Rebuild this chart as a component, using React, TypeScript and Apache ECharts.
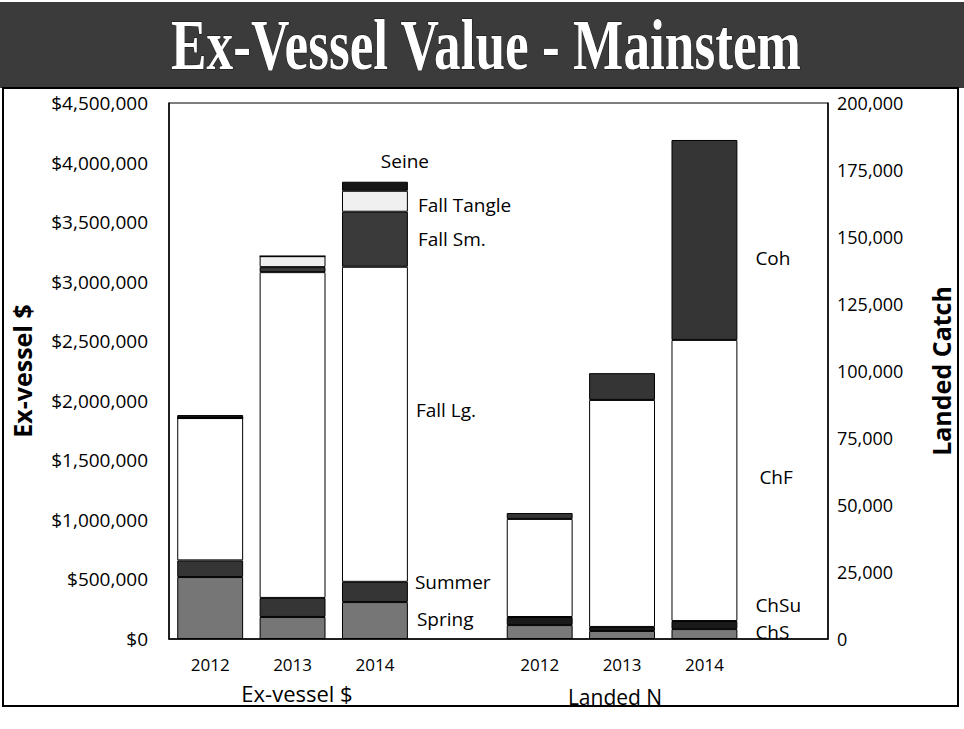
import React, { useEffect, useRef } from 'react';
import * as echarts from 'echarts';

// ---------- data ----------
const categories = ['2012', '2013', '2014', '', '2012', '2013', '2014', ''];
const groupLabels = ['Ex-vessel $', 'Landed N'];
const titleText = 'Ex-Vessel Value - Mainstem';
const leftAxisName = 'Ex-vessel $';
const rightAxisName = 'Landed Catch';

// Ex-vessel value ($) by year 2012, 2013, 2014
const spring = [520000, 185000, 310000];
const summer = [140000, 160000, 170000];
const fallLg = [1195000, 2735000, 2645000];
const fallSm = [0, 42000, 462000];
const fallTangle = [0, 92000, 176000];
const seine = [25000, 0, 76000];

// Landed catch (N) by year 2012, 2013, 2014
const chS = [5200, 3000, 3700];
const chSu = [3000, 1500, 3000];
const chF = [36600, 84700, 104900];
const coh = [2200, 10000, 74600];

const leftMax = 4500000;
const leftInterval = 500000;
const rightMax = 200000;
const rightInterval = 25000;

const FONT = 'Open Sans';

type Seg = {
  name: string;
  values: number[];
  color: string;
  group: 0 | 1;
  label: { position: string; offset: number[]; distance: number };
};

const segments: Seg[] = [
  { name: 'Spring', values: spring, color: '#767676', group: 0, label: { position: 'right', offset: [0, -2], distance: 9 } },
  { name: 'Summer', values: summer, color: '#353535', group: 0, label: { position: 'right', offset: [-2, -10], distance: 9 } },
  { name: 'Fall Lg.', values: fallLg, color: '#ffffff', group: 0, label: { position: 'right', offset: [0, -14], distance: 8 } },
  { name: 'Fall Sm.', values: fallSm, color: '#3a3a3a', group: 0, label: { position: 'right', offset: [0, 0], distance: 10 } },
  { name: 'Fall Tangle', values: fallTangle, color: '#f0f0f0', group: 0, label: { position: 'right', offset: [0, 4], distance: 10 } },
  { name: 'Seine', values: seine, color: '#151515', group: 0, label: { position: 'top', offset: [30, -6], distance: 5 } },
  { name: 'ChS', values: chS, color: '#7a7a7a', group: 1, label: { position: 'right', offset: [0, -2], distance: 18 } },
  { name: 'ChSu', values: chSu, color: '#1a1a1a', group: 1, label: { position: 'right', offset: [0, -20], distance: 18 } },
  { name: 'ChF', values: chF, color: '#ffffff', group: 1, label: { position: 'right', offset: [0, -3], distance: 22 } },
  { name: 'Coh', values: coh, color: '#353535', group: 1, label: { position: 'right', offset: [0, 18], distance: 18 } },
];

function buildSeries() {
  return segments.map((s) => {
    const start = s.group === 0 ? 0 : 4;
    const data: any[] = categories.map(() => null);
    s.values.forEach((v, i) => {
      data[start + i] = v;
    });
    const lastIdx = start + s.values.length - 1;
    data[lastIdx] = {
      value: data[lastIdx],
      label: {
        show: true,
        position: s.label.position,
        offset: s.label.offset,
        distance: s.label.distance,
        formatter: s.name,
        color: '#000',
        fontFamily: FONT,
        fontSize: 19,
      },
    };
    return {
      name: s.name,
      type: 'bar',
      stack: s.group === 0 ? 'ev' : 'ln',
      xAxisIndex: s.group,
      yAxisIndex: s.group,
      barCategoryGap: '20%',
      itemStyle: { color: s.color, borderColor: '#000', borderWidth: 1 },
      emphasis: { disabled: true },
      data,
    };
  });
}

export default function App() {
  const ref = useRef<HTMLDivElement>(null);

  useEffect(() => {
    if (!ref.current) return;
    const chart = echarts.init(ref.current, null, { renderer: 'svg' });
    const fmtMoney = (v: number) => '$' + Math.round(v).toLocaleString('en-US');
    const fmtNum = (v: number) => Math.round(v).toLocaleString('en-US');

    chart.setOption({
      animation: false,
      backgroundColor: '#ffffff',
      grid: {
        left: 169,
        right: 136,
        top: 103,
        bottom: 90,
        show: true,
        borderColor: '#000',
        borderWidth: 1,
        backgroundColor: 'transparent',
      },
      xAxis: [
        {
          type: 'category',
          data: categories,
          axisLine: { show: true, lineStyle: { color: '#000', width: 1.5 } },
          axisTick: { show: false },
          axisLabel: { color: '#000', fontFamily: FONT, fontSize: 17, margin: 17, interval: 0 },
          splitLine: { show: false },
        },
        {
          type: 'category',
          data: categories,
          show: false,
        },
      ],
      yAxis: [
        {
          type: 'value',
          position: 'left',
          min: 0,
          max: leftMax,
          interval: leftInterval,
          name: leftAxisName,
          nameLocation: 'middle',
          nameGap: 135,
          nameRotate: 90,
          nameTextStyle: { color: '#000', fontFamily: FONT, fontSize: 25, fontWeight: 'bold' },
          axisLine: { show: true, lineStyle: { color: '#000', width: 1.5 } },
          axisTick: { show: false },
          splitLine: { show: false },
          axisLabel: { color: '#000', fontFamily: FONT, fontSize: 19, margin: 21, formatter: fmtMoney },
        },
        {
          type: 'value',
          position: 'right',
          min: 0,
          max: rightMax,
          interval: rightInterval,
          name: rightAxisName,
          nameLocation: 'middle',
          nameGap: 100,
          nameRotate: 90,
          nameTextStyle: { color: '#000', fontFamily: FONT, fontSize: 25, fontWeight: 'bold' },
          axisLine: { show: true, lineStyle: { color: '#000', width: 1.5 } },
          axisTick: { show: false },
          splitLine: { show: false },
          axisLabel: { color: '#000', fontFamily: FONT, fontSize: 18, margin: 9, formatter: fmtNum },
        },
      ],
      graphic: [
        {
          type: 'rect',
          z: -10,
          shape: { x: 0, y: 2, width: 964, height: 86 },
          style: { fill: '#3b3b3b' },
        },
        {
          type: 'rect',
          z: -10,
          shape: { x: 3, y: 88, width: 955, height: 618 },
          style: { fill: 'none', stroke: '#000', lineWidth: 2 },
        },
        {
          type: 'text',
          x: 486,
          y: 45,
          scaleX: 0.74,
          style: {
            text: titleText,
            x: 0,
            y: 0,
            align: 'center',
            verticalAlign: 'middle',
            fontFamily: 'Liberation Serif',
            fontWeight: 'bold',
            fontSize: 72,
            fill: '#ffffff',
            stroke: '#111',
            lineWidth: 1,
          },
        },
        {
          type: 'text',
          x: 297,
          y: 693,
          style: {
            text: groupLabels[0],
            align: 'center',
            verticalAlign: 'middle',
            fontFamily: FONT,
            fontSize: 22,
            fill: '#000',
          },
        },
        {
          type: 'text',
          x: 615,
          y: 697,
          style: {
            text: groupLabels[1],
            align: 'center',
            verticalAlign: 'middle',
            fontFamily: FONT,
            fontSize: 21,
            fill: '#000',
          },
        },
      ],
      series: buildSeries(),
    });

    return () => chart.dispose();
  }, []);

  return (
    <div
      ref={ref}
      style={{ position: 'absolute', left: 0, top: 0, width: 964, height: 729 }}
    />
  );
}
